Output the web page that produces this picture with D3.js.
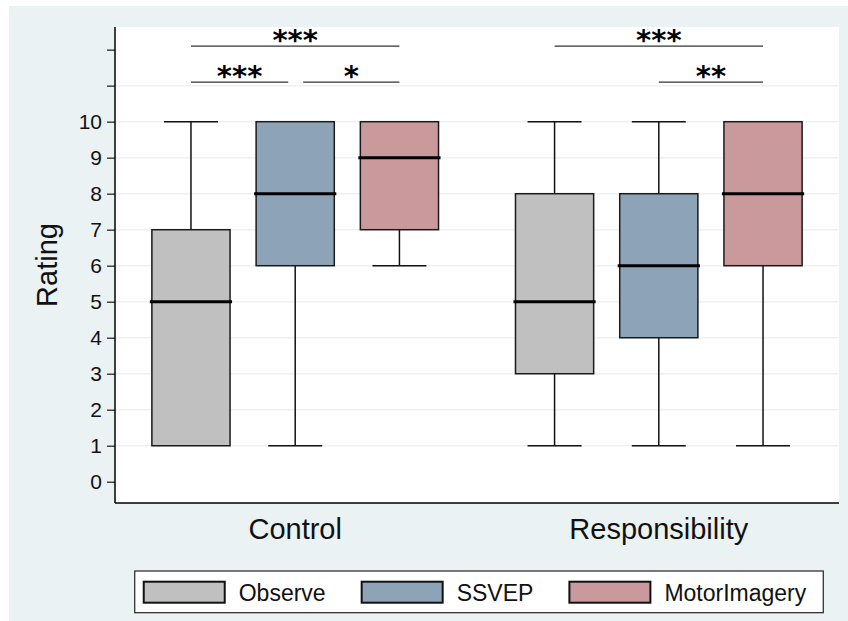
<!DOCTYPE html>
<html>
<head>
<meta charset="utf-8">
<script src="https://cdn.jsdelivr.net/npm/d3@7"></script>
<style>
  body { margin: 0; background: #fff; }
  svg { display: block; font-family: "Liberation Sans", Arial, sans-serif; }
</style>
</head>
<body>
<svg id="chart"></svg>
<script>
// data
const groups = ['Control', 'Responsibility'];
const series = ['Observe', 'SSVEP', 'MotorImagery'];
const colors = ['#c0c0c0', '#8da4b8', '#c9999c'];

// [min, q1, median, q3, max] per group, per series
const controlBoxes = [
  [1, 1, 5, 7, 10],
  [1, 6, 8, 10, 10],
  [6, 7, 9, 10, 10]
];
const responsibilityBoxes = [
  [1, 3, 5, 8, 10],
  [1, 4, 6, 8, 10],
  [1, 6, 8, 10, 10]
];

const yTicks = [0, 1, 2, 3, 4, 5, 6, 7, 8, 9, 10, 11, 12];
const yTickLabels = ['0', '1', '2', '3', '4', '5', '6', '7', '8', '9', '10', '', ''];

// significance brackets: group, from series, to series, level, stars
const sigGroup = ['Control', 'Control', 'Control', 'Responsibility', 'Responsibility'];
const sigFrom = ['Observe', 'SSVEP', 'Observe', 'Observe', 'SSVEP'];
const sigTo = ['SSVEP', 'MotorImagery', 'MotorImagery', 'MotorImagery', 'MotorImagery'];
const sigLevel = [11.1, 11.1, 12.1, 12.1, 11.1];
const sigLabel = ['***', '*', '***', '***', '**'];

const width = 848, height = 621;
const plot = {left: 115, right: 839, top: 27, bottom: 503};

const svg = d3.select('#chart').attr('width', width).attr('height', height);

svg.append('rect')
  .attr('x', 9).attr('y', 6)
  .attr('width', width - 9).attr('height', height - 6)
  .attr('fill', '#eaf2f3');

svg.append('rect')
  .attr('x', plot.left).attr('y', plot.top)
  .attr('width', plot.right - plot.left).attr('height', plot.bottom - plot.top)
  .attr('fill', '#fff');

const y = d3.scaleLinear()
  .domain([-0.59, 12.63])
  .range([plot.bottom, plot.top]);

const x0 = d3.scaleBand()
  .domain(groups)
  .range([plot.left, plot.right])
  .paddingInner(0.14)
  .paddingOuter(0.0656);

const x1 = d3.scaleBand()
  .domain(series)
  .range([0, x0.bandwidth()])
  .paddingInner(0.25)
  .paddingOuter(0.125);

const center = (g, s) => x0(g) + x1(s) + x1.bandwidth() / 2;

// gridlines
svg.append('g')
  .selectAll('line')
  .data(yTicks.filter(t => t >= 1 && t <= 11))
  .join('line')
  .attr('x1', plot.left).attr('x2', plot.right)
  .attr('y1', d => y(d)).attr('y2', d => y(d))
  .attr('stroke', '#eaf2f3')
  .attr('stroke-width', 1.5);

// y axis
const yAxis = svg.append('g')
  .attr('transform', `translate(${plot.left},0)`)
  .call(d3.axisLeft(y)
    .tickValues(yTicks)
    .tickFormat((d, i) => yTickLabels[i])
    .tickSize(8)
    .tickPadding(5));
yAxis.select('.domain').remove();
yAxis.selectAll('.tick line').attr('stroke', '#444').attr('stroke-width', 1.5);
yAxis.selectAll('.tick text')
  .attr('fill', '#111')
  .style('font-family', '"Liberation Sans", Arial, sans-serif')
  .style('font-size', '21px');

svg.append('line')
  .attr('x1', plot.left).attr('x2', plot.left)
  .attr('y1', plot.top).attr('y2', plot.bottom)
  .attr('stroke', '#000').attr('stroke-width', 1.5);
svg.append('line')
  .attr('x1', plot.left).attr('x2', plot.right)
  .attr('y1', plot.bottom).attr('y2', plot.bottom)
  .attr('stroke', '#000').attr('stroke-width', 1.5);

svg.append('text')
  .attr('transform', `translate(57, ${(plot.top + plot.bottom) / 2}) rotate(-90)`)
  .attr('text-anchor', 'middle')
  .style('font-size', '29px')
  .attr('fill', '#111')
  .text('Rating');

// group labels
svg.selectAll('.group-label')
  .data(groups)
  .join('text')
  .attr('class', 'group-label')
  .attr('x', d => x0(d) + x0.bandwidth() / 2)
  .attr('y', 539)
  .attr('text-anchor', 'middle')
  .style('font-size', '29px')
  .attr('fill', '#111')
  .text(d => d);

// boxes
const boxData = [];
groups.forEach((g, gi) => {
  const rows = gi === 0 ? controlBoxes : responsibilityBoxes;
  series.forEach((s, si) => {
    const [min, q1, med, q3, max] = rows[si];
    boxData.push({g, s, si, min, q1, med, q3, max});
  });
});

const capHalf = 27;
const bw = x1.bandwidth();
const boxes = svg.append('g').selectAll('g').data(boxData).join('g');

boxes.append('line')
  .attr('x1', d => center(d.g, d.s)).attr('x2', d => center(d.g, d.s))
  .attr('y1', d => y(d.q3)).attr('y2', d => y(d.max))
  .attr('stroke', '#111').attr('stroke-width', 1.5);
boxes.append('line')
  .attr('x1', d => center(d.g, d.s)).attr('x2', d => center(d.g, d.s))
  .attr('y1', d => y(d.q1)).attr('y2', d => y(d.min))
  .attr('stroke', '#111').attr('stroke-width', 1.5);
boxes.filter(d => d.max > d.q3).append('line')
  .attr('x1', d => center(d.g, d.s) - capHalf).attr('x2', d => center(d.g, d.s) + capHalf)
  .attr('y1', d => y(d.max)).attr('y2', d => y(d.max))
  .attr('stroke', '#111').attr('stroke-width', 1.5);
boxes.filter(d => d.min < d.q1).append('line')
  .attr('x1', d => center(d.g, d.s) - capHalf).attr('x2', d => center(d.g, d.s) + capHalf)
  .attr('y1', d => y(d.min)).attr('y2', d => y(d.min))
  .attr('stroke', '#111').attr('stroke-width', 1.5);

boxes.append('rect')
  .attr('x', d => x0(d.g) + x1(d.s))
  .attr('width', bw)
  .attr('y', d => y(d.q3))
  .attr('height', d => y(d.q1) - y(d.q3))
  .attr('fill', d => colors[d.si])
  .attr('stroke', '#1a1a1a')
  .attr('stroke-width', 1.5);

boxes.append('line')
  .attr('x1', d => x0(d.g) + x1(d.s) - 2).attr('x2', d => x0(d.g) + x1(d.s) + bw + 2)
  .attr('y1', d => y(d.med)).attr('y2', d => y(d.med))
  .attr('stroke', '#000').attr('stroke-width', 3);

// significance brackets
const sig = sigGroup.map((g, i) => ({g, from: sigFrom[i], to: sigTo[i], level: sigLevel[i], label: sigLabel[i]}));
const inset = 7;
sig.forEach(d => {
  // pull the ends in where two brackets on one level meet
  const shareLeft = sig.some(o => o !== d && o.g === d.g && o.level === d.level && o.to === d.from);
  const shareRight = sig.some(o => o !== d && o.g === d.g && o.level === d.level && o.from === d.to);
  d.xa = center(d.g, d.from) + (shareLeft ? inset + 1 : 0);
  d.xb = center(d.g, d.to) - (shareRight ? inset : 0);
});

const brackets = svg.append('g').selectAll('g').data(sig).join('g');
brackets.append('line')
  .attr('x1', d => d.xa).attr('x2', d => d.xb)
  .attr('y1', d => y(d.level)).attr('y2', d => y(d.level))
  .attr('stroke', '#333').attr('stroke-width', 1.2);
brackets.append('text')
  .attr('x', d => (d.xa + d.xb) / 2)
  .attr('y', d => y(d.level) - 12)
  .attr('dy', '0.55em')
  .attr('text-anchor', 'middle')
  .style('font-family', '"DejaVu Sans", sans-serif')
  .style('font-weight', 'bold')
  .style('font-size', '29px')
  .attr('fill', '#000')
  .text(d => d.label);

// legend
const legend = svg.append('g');
const legendBox = legend.append('rect')
  .attr('fill', '#fff').attr('stroke', '#222').attr('stroke-width', 1.2);
const items = legend.append('g');
let cursor = 9;
series.forEach((s, i) => {
  const item = items.append('g').attr('transform', `translate(${cursor},0)`);
  item.append('rect')
    .attr('x', 0).attr('y', 10.7)
    .attr('width', 81).attr('height', 21)
    .attr('fill', colors[i])
    .attr('stroke', '#111').attr('stroke-width', 2);
  const t = item.append('text')
    .attr('x', 95).attr('y', 29.5)
    .style('font-size', '23px')
    .attr('fill', '#111')
    .text(s);
  cursor += 95 + t.node().getComputedTextLength() + 36;
});
const legendW = cursor - 36 + 17;
legendBox.attr('x', 0).attr('y', 0).attr('width', legendW).attr('height', 41.7);
legend.attr('transform', `translate(${(plot.left + plot.right) / 2 - legendW / 2 + 2},571)`);
</script>
</body>
</html>
